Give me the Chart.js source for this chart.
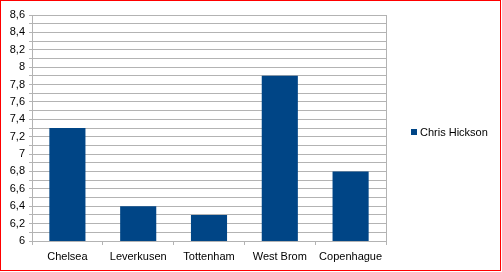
<!DOCTYPE html>
<html>
<head>
<meta charset="utf-8">
<script src="https://cdn.jsdelivr.net/npm/chart.js@4"></script>
<style>
html,body{margin:0;padding:0;background:#fff;}
#wrap{width:502px;height:272px;}
</style>
</head>
<body>
<div id="wrap"><canvas id="c" width="502" height="272"></canvas></div>
<script>
const categories = ["Chelsea", "Leverkusen", "Tottenham", "West Brom", "Copenhague"];
const seriesName = "Chris Hickson";
const seriesValues = [7.3, 6.4, 6.3, 7.9, 6.8];
const yMin = 6;
const yMax = 8.6;
const yStep = 0.1;

const FONT = "'Liberation Sans', Arial, sans-serif";
const BLUE = "#004586";
const GRID = "#b3b3b3";

const framePlugin = {
  id: "frame",
  beforeDraw(chart) {
    const ctx = chart.ctx;
    ctx.save();
    ctx.fillStyle = "#fff";
    ctx.fillRect(0, 0, chart.width, chart.height);
    ctx.restore();
  },
  afterDraw(chart) {
    const ctx = chart.ctx;
    const a = chart.chartArea;
    ctx.save();
    // right border of the plot area
    ctx.strokeStyle = GRID;
    ctx.lineWidth = 1;
    ctx.beginPath();
    ctx.moveTo(Math.round(a.right) + 0.5, a.top);
    ctx.lineTo(Math.round(a.right) + 0.5, a.bottom);
    ctx.stroke();
    // legend
    const ds = chart.data.datasets[0];
    ctx.fillStyle = ds.backgroundColor;
    ctx.fillRect(411, 129, 6, 6);
    ctx.fillStyle = "#000";
    ctx.font = "11px " + FONT;
    ctx.textBaseline = "middle";
    ctx.textAlign = "left";
    ctx.fillText(ds.label, 420, 132.5);
    // red outer frame
    ctx.strokeStyle = "#ff0000";
    ctx.lineWidth = 1;
    ctx.strokeRect(0.5, 0.5, 500, 270);
    ctx.restore();
  }
};

new Chart(document.getElementById("c"), {
  type: "bar",
  data: {
    labels: categories,
    datasets: [{
      label: seriesName,
      data: seriesValues,
      backgroundColor: BLUE,
      borderWidth: 0,
      categoryPercentage: 1,
      barPercentage: 0.51
    }]
  },
  options: {
    responsive: false,
    animation: false,
    devicePixelRatio: 1,
    layout: { padding: { top: 15, left: 0, right: 116, bottom: 0 } },
    plugins: { legend: { display: false }, tooltip: { enabled: false } },
    scales: {
      x: {
        offset: true,
        afterFit(s) { s.height = 31; },
        grid: { display: true, drawOnChartArea: false, drawTicks: true, tickLength: 4, color: GRID, offset: true },
        border: { display: true, color: GRID },
        ticks: { color: "#000", font: { family: FONT, size: 11 }, padding: 5, maxRotation: 0, autoSkip: false }
      },
      y: {
        min: yMin,
        max: yMax,
        afterFit(s) { s.width = 32; },
        grid: { color: GRID, tickLength: 3, drawTicks: true },
        border: { display: true, color: GRID },
        ticks: {
          stepSize: yStep,
          autoSkip: false,
          color: "#000",
          font: { family: FONT, size: 11 },
          padding: 4,
          callback(v) {
            const t = Math.round(v * 10);
            if (t % 2 !== 0) return "";
            return String(t / 10).replace(".", ",");
          }
        }
      }
    }
  },
  plugins: [framePlugin]
});
</script>
</body>
</html>
